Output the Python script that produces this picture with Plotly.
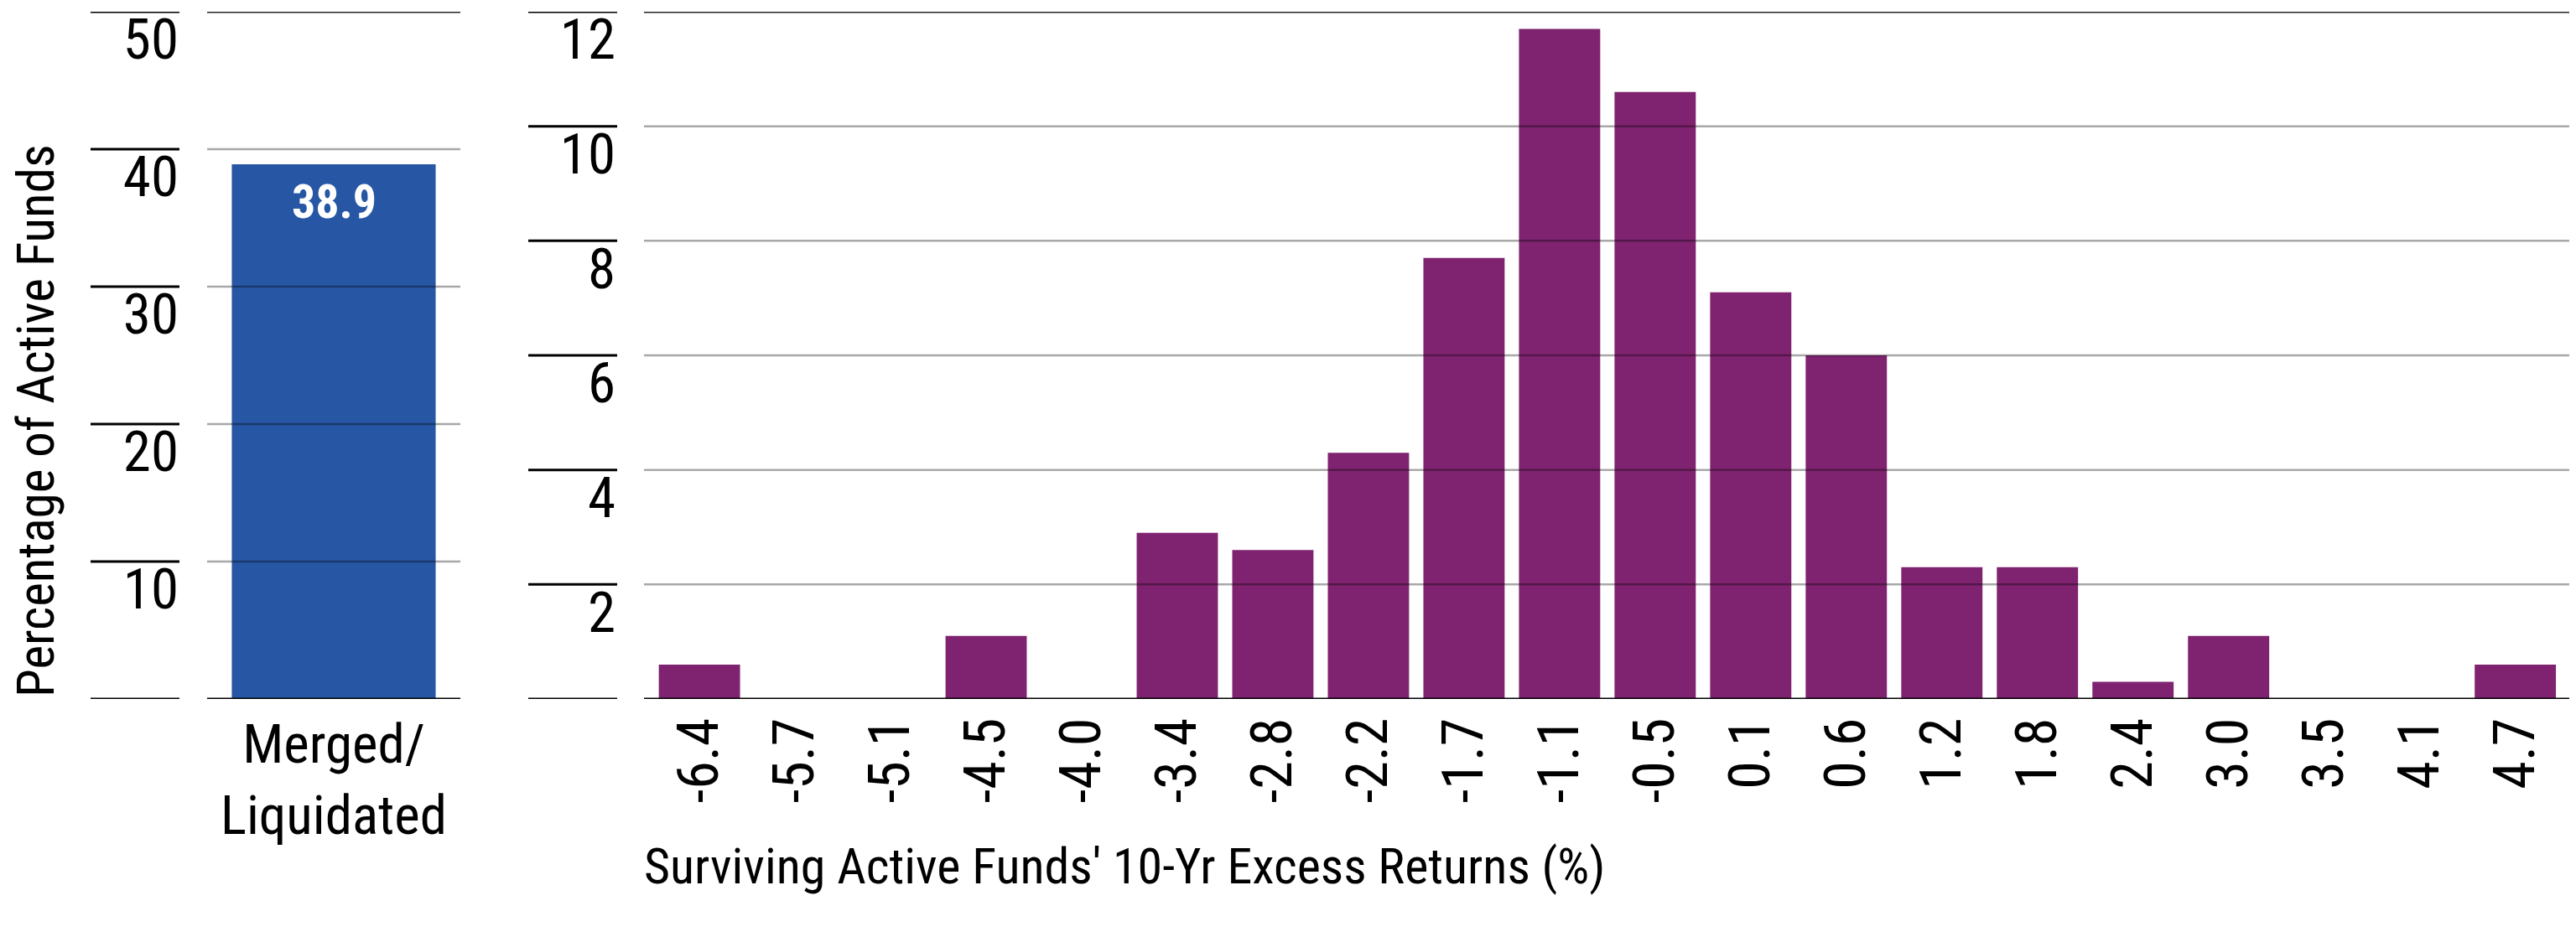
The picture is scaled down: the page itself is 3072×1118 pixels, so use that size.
import plotly.graph_objects as go

# ---------------- data ----------------
left_categories = ["Merged/<br>Liquidated"]
left_values = [38.9]
left_ticks = [0, 10, 20, 30, 40, 50]

return_bins = ["-6.4", "-5.7", "-5.1", "-4.5", "-4.0", "-3.4", "-2.8", "-2.2", "-1.7", "-1.1",
               "-0.5", "0.1", "0.6", "1.2", "1.8", "2.4", "3.0", "3.5", "4.1", "4.7"]
pct_values = [0.6, 0, 0, 1.1, 0, 2.9, 2.6, 4.3, 7.7, 11.7,
              10.6, 7.1, 6.0, 2.3, 2.3, 0.3, 1.1, 0, 0, 0.6]
right_ticks = [0, 2, 4, 6, 8, 10, 12]

y_title = "Percentage of Active Funds"
x_title = "Surviving Active Funds' 10-Yr Excess Returns (%)"

# ---------------- style ----------------
W, H = 3072, 1118
BLUE = "#2757A4"
PURPLE = "#7F2370"
NARROW = "Roboto Condensed, DejaVu Sans Condensed, sans-serif"

def px_x(p):
    return p / W

def px_y(p):
    return 1 - p / H

Y_BOT, Y_TOP = px_y(826), px_y(6)

fig = go.Figure()
fig.add_trace(go.Bar(x=left_categories, y=left_values, xaxis="x", yaxis="y",
                     marker=dict(color=BLUE, line=dict(width=0)), width=0.805,
                     showlegend=False, hoverinfo="skip"))
fig.add_trace(go.Bar(x=return_bins, y=pct_values, xaxis="x2", yaxis="y2",
                     marker=dict(color=PURPLE, line=dict(width=0)), width=0.85,
                     showlegend=False, hoverinfo="skip"))

shapes = []
# tick segments outside plot areas, gridlines over bars
for yref, ticks, seg, xd in (("y", left_ticks, (100, 206), "x domain"),
                             ("y2", right_ticks, (622, 728), "x2 domain")):
    top, bottom = max(ticks), min(ticks)
    for t in ticks:
        shapes.append(dict(type="line", xref="paper", yref=yref,
                           x0=px_x(seg[0]), x1=px_x(seg[1]), y0=t, y1=t,
                           line=dict(color="#000000", width=3), layer="above"))
        if t == top:
            col, w = "#262626", 3
        elif t == bottom:
            col, w = "#000000", 3
        else:
            col, w = "rgba(0,0,0,0.34)", 2.5
        shapes.append(dict(type="line", xref=xd, yref=yref, x0=0, x1=1, y0=t, y1=t,
                           line=dict(color=col, width=w), layer="above"))

# bottom rule across the figure
shapes.append(dict(type="line", xref="paper", yref="paper", x0=px_x(7), x1=px_x(3065),
                   y0=px_y(1113), y1=px_y(1113), line=dict(color="#000000", width=3)))

annotations = [
    dict(text=y_title, xref="paper", yref="paper", x=px_x(35), y=Y_BOT,
         xanchor="center", yanchor="bottom", textangle=-90, showarrow=False,
         font=dict(family=NARROW, size=61, color="#000000")),
    dict(text=x_title, xref="paper", yref="paper", x=px_x(758), y=px_y(1025),
         xanchor="left", yanchor="middle", showarrow=False,
         font=dict(family=NARROW, size=60, color="#000000")),
    dict(text=str(left_values[0]), xref="x", yref="y", x=left_categories[0], y=left_values[0],
         xanchor="center", yanchor="top", yshift=-10, showarrow=False,
         font=dict(family=NARROW, size=56, color="#FFFFFF", weight="bold")),
]

tick_font = dict(family=NARROW, size=67, color="#000000")

fig.update_layout(
    width=W, height=H,
    margin=dict(l=0, r=0, t=0, b=0, pad=0),
    paper_bgcolor="#FFFFFF", plot_bgcolor="#FFFFFF",
    showlegend=False,
    shapes=shapes, annotations=annotations,
    xaxis=dict(domain=[px_x(239), px_x(541)], anchor="y", type="category",
               range=[-0.5, 0.5], showgrid=False, zeroline=False, showline=False,
               ticks="", tickfont=dict(family=NARROW, size=65, color="#000000"),
               ticklabelstandoff=10, automargin=False),
    yaxis=dict(domain=[Y_BOT, Y_TOP], anchor="x", range=[0, 50],
               tickvals=left_ticks[1:], ticktext=[str(v) for v in left_ticks[1:]],
               showgrid=False, zeroline=False, showline=False, ticks="",
               tickfont=tick_font, ticklabelshift=33, ticklabelstandoff=33, automargin=False),
    xaxis2=dict(domain=[px_x(760), px_x(3060)], anchor="y2", type="category",
                range=[-0.58, 19.6], showgrid=False, zeroline=False, showline=False,
                ticks="", tickangle=-90,
                tickfont=dict(family=NARROW, size=68, color="#000000"),
                ticklabelstandoff=8, automargin=False),
    yaxis2=dict(domain=[Y_BOT, Y_TOP], anchor="x2", range=[0, 12],
                tickvals=right_ticks[1:], ticktext=[str(v) for v in right_ticks[1:]],
                showgrid=False, zeroline=False, showline=False, ticks="",
                tickfont=tick_font, ticklabelshift=33, ticklabelstandoff=33, automargin=False),
)

fig.write_html("out.html")
